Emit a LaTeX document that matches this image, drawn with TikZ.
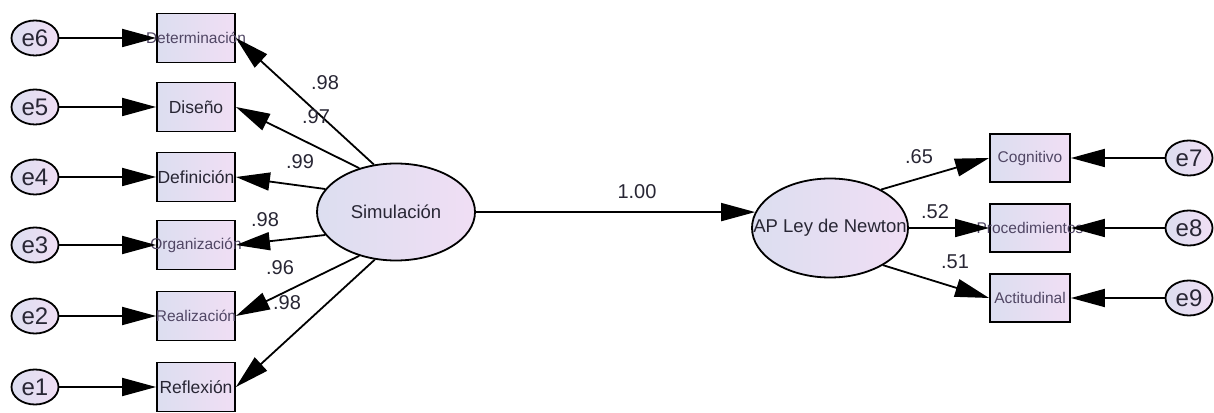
\documentclass[tikz,border=0pt]{standalone}
\usepackage{fontspec}
\setmainfont{Liberation Sans}
\usetikzlibrary{arrows.meta,shapes.geometric}

\definecolor{fillL}{RGB}{220,222,240}
\definecolor{fillR}{RGB}{240,222,244}
\definecolor{ink}{RGB}{40,38,52}
\definecolor{softink}{RGB}{80,70,100}

\tikzset{
  fs/.style={font=\fontsize{#1}{#1}\selectfont},
  grad/.style={left color=fillL, right color=fillR},
  obs/.style={draw, grad, line width=1.8pt, minimum width=78pt, minimum height=49pt,
              inner sep=0pt, text=ink, fs=17.5},
  obssmall/.style={obs, fs=15.5, text=softink},
  lat/.style={ellipse, draw, grad, line width=1.8pt, minimum width=158pt,
              minimum height=97pt, inner sep=0pt, text=ink, fs=18.5},
  err/.style={ellipse, draw, grad, line width=1.8pt, minimum width=47pt,
              minimum height=35pt, inner sep=0pt, text=ink, fs=24},
  link/.style={line width=1.8pt, -{Triangle[length=34pt,width=18pt]}},
  coef/.style={text=ink, fs=20, inner sep=0pt}
}

\begin{document}
\begin{tikzpicture}[x=1pt,y=1pt]
  \useasboundingbox[fill=white] (0,0) rectangle (1214,412);

  % error terms on the left
  \node[err] (e6) at (35,374) {e6};
  \node[err] (e5) at (35,305) {e5};
  \node[err] (e4) at (35,235) {e4};
  \node[err] (e3) at (35,167) {e3};
  \node[err] (e2) at (35,96)  {e2};
  \node[err] (e1) at (35,25)  {e1};

  % indicators of Simulacion
  \node[obssmall] (det) at (196,374) {\makebox[0pt]{Determinación}};
  \node[obs]      (dis) at (196,305) {\makebox[0pt]{Diseño}};
  \node[obs]      (def) at (196,235) {\makebox[0pt]{Definición}};
  \node[obssmall] (org) at (196,167) {\makebox[0pt]{Organización}};
  \node[obssmall] (rea) at (196,96)  {\makebox[0pt]{Realización}};
  \node[obs]      (ref) at (196,25)  {\makebox[0pt]{Reflexión}};

  % latent variables
  \node[lat] (sim) at (396,200) {Simulación};
  \node[lat, minimum width=156pt, minimum height=99pt] (ap) at (830,184)
       {\makebox[0pt]{AP Ley de Newton}};

  % indicators of AP Ley de Newton
  \node[obssmall, minimum width=80pt, minimum height=48pt] (cog) at (1030,254) {\makebox[0pt]{Cognitivo}};
  \node[obssmall, minimum width=80pt, minimum height=48pt] (pro) at (1030,184) {\makebox[0pt]{Procedimientos}};
  \node[obssmall, minimum width=80pt, minimum height=48pt] (act) at (1030,114) {\makebox[0pt]{Actitudinal}};

  % error terms on the right
  \node[err] (e7) at (1189,254) {e7};
  \node[err] (e8) at (1189,184) {e8};
  \node[err] (e9) at (1189,114) {e9};

  % error paths
  \foreach \e/\b in {e6/det,e5/dis,e4/def,e3/org,e2/rea,e1/ref}
    \draw[link] (\e.east) -- (\b.west);
  \foreach \e/\b in {e7/cog,e8/pro,e9/act}
    \draw[link] (\e.west) -- (\b.east);

  % loadings of Simulacion
  \draw[link] (sim.115) -- (det.east);
  \draw[link] (sim.130) -- (dis.east);
  \draw[link] (sim.162) -- (def.east);
  \draw[link] (sim.198) -- (org.east);
  \draw[link] (sim.230) -- (rea.east);
  \draw[link] (sim.246) -- (ref.east);

  % structural path
  \draw[link] (sim.east) -- (ap.168.6);

  % loadings of AP Ley de Newton
  \draw[link] (ap.37) -- (cog.west);
  \draw[link] (ap.east) -- (pro.west);
  \draw[link] (ap.-35) -- (act.west);

  % coefficients
  \node[coef] (c1) at (325,329) {.98};
  \node[coef] (c2) at (316,295) {.97};
  \node[coef] (c3) at (300,250) {.99};
  \node[coef] (c4) at (265,192) {.98};
  \node[coef] (c5) at (280,144) {.96};
  \node[coef] (c6) at (287,109) {.98};
  \node[coef] (c7) at (637,220) {1.00};
  \node[coef] (c8) at (919,255) {.65};
  \node[coef] (c9) at (935,200) {.52};
  \node[coef] (c10) at (955,150) {.51};
\end{tikzpicture}
\end{document}
